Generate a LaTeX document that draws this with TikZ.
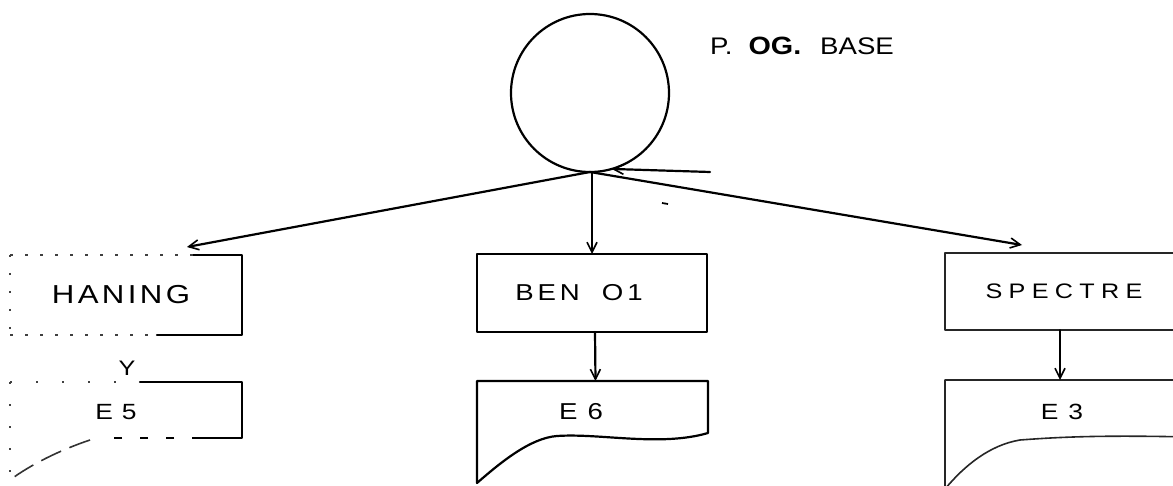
\documentclass[tikz,border=0pt]{standalone}
\usepackage{fontspec}
\setmainfont{Liberation Sans}
% wide, letter-spaced typewriter-like lettering
\newfontfamily\fPlain[FakeStretch=1.2]{Liberation Sans}
\newfontfamily\fHan[FakeStretch=1.2,LetterSpace=13]{Liberation Sans}
\newfontfamily\fBen[FakeStretch=1.2,LetterSpace=17]{Liberation Sans}
\newfontfamily\fSpec[FakeStretch=1.2,LetterSpace=30]{Liberation Sans}
\newfontfamily\fTitle[FakeStretch=1.15]{Liberation Sans}
\usetikzlibrary{arrows.meta,calc}

\begin{document}
\begin{tikzpicture}[x=1pt,y=1pt,
  ln/.style={line width=2.2pt, line cap=round, line join=round},
  thin ln/.style={line width=1.6pt, line cap=round, line join=round, black!85},
  faint/.style={line width=1.6pt, black!75, dash pattern=on 3pt off 12pt},
  dashbot/.style={line width=1.8pt, dash pattern=on 8pt off 18pt},
  arr/.style={ln, -{Straight Barb[length=10pt,width=10pt,line width=1.6pt]}},
  txt/.style={inner sep=0pt, outer sep=0pt},
  area/.style={rectangle, inner sep=0pt, outer sep=0pt}]
\useasboundingbox (0,0) rectangle (1173,485);
\clip (0,0) rectangle (1173,485);

% ---- root circle and title
\node[circle, draw, ln, minimum size=158pt, inner sep=0pt, outer sep=0pt] (base) at (590,392) {};
\node[txt, anchor=west] (title) at (710,439)
  {\fontsize{24}{24}\fTitle P.\hspace{16pt}{\fontsize{25}{25}\selectfont\bfseries OG.}\hspace{19pt}BASE};
\coordinate (in) at (710,313);
\draw[arr] (in) -- (base.-74);

% ---- processing boxes
\node[area, minimum width=232pt, minimum height=80pt] (han) at (126,190) {};
\node[area, draw, ln, minimum width=230pt, minimum height=78pt] (ben) at (592,192) {};
\node[area, minimum width=244pt, minimum height=77pt] (spec) at (1067,193.5) {};

\node[txt] (hant) at ([xshift=-5pt]han.center) {\fontsize{26}{26}\fHan HANING};
\node[txt] (bent) at ([xshift=-13pt]ben.center) {\fontsize{23}{23}\fBen BEN\hspace{22pt}O1};
\node[txt] (spect) at ([xshift=-3pt]spec.center) {\fontsize{21}{21}\fSpec SPECTRE};

% faded HANING box: solid on the right, broken on the left
\draw[ln] ([xshift=-49pt]han.north east) -- (han.north east) -- (han.south east) -- ([xshift=-85pt]han.south east);
\draw[faint] (han.north west) -- ([xshift=-49pt]han.north east);
\draw[faint] (han.south west) -- ([xshift=-85pt]han.south east);
\draw[faint, dash pattern=on 2pt off 16pt] (han.north west) -- (han.south west);

% SPECTRE box (right side runs off the sheet)
\draw[thin ln] (spec.north east) -- (spec.north west) -- (spec.south west) -- (spec.south east);

% ---- document shapes
\node[area, minimum width=232pt, minimum height=56pt] (e5) at (126,75) {};
\node[area, minimum width=231pt, minimum height=52pt] (e6) at (592.5,78) {};
\node[area, minimum width=244pt, minimum height=57pt] (e3) at (1067,76.5) {};

\node[txt] (e5t) at (116,73) {\fontsize{22}{22}\fPlain E\hspace{9pt}5};
\node[txt] (e6t) at (581,73) {\fontsize{23}{23}\fPlain E\hspace{10pt}6};
\node[txt] (e3t) at (1062,73) {\fontsize{22}{22}\fPlain E\hspace{10pt}3};
\node[txt] (ylbl) at (127,117) {\fontsize{21}{21}\fPlain Y};

% E6
\draw[ln] (e6.south west) -- (e6.north west) -- (e6.north east) -- (e6.south east)
  .. controls (660,38) and (600,52) .. (557,49)
  .. controls (530,47) and (500,22) .. ([yshift=-50pt]e6.south west) -- (e6.south west);

% E3
\draw[thin ln] (e3.south east) .. controls (1100,50) and (1060,48) .. (1020,45)
  .. controls (990,40) and (965,20) .. ([yshift=-52pt]e3.south west)
  -- (e3.north west) -- (e3.north east);

% E5 (faded on the left)
\draw[ln] ([xshift=-102pt]e5.north east) -- (e5.north east) -- (e5.south east) -- ([xshift=-42pt]e5.south east);
\draw[dashbot] ([xshift=-42pt]e5.south east) -- ([xshift=-137pt]e5.south east);
\draw[faint, dash pattern=on 2pt off 24pt] (e5.north west) -- ([xshift=-110pt]e5.north east);
\draw[faint, dash pattern=on 2pt off 20pt] (e5.north west) -- ([yshift=-44pt]e5.south west);
\draw[line width=1.6pt, black!80, dash pattern=on 22pt off 9pt]
  ([xshift=-152pt,yshift=-2pt]e5.south east) .. controls (60,35) and (30,20) .. ([yshift=-42pt]e5.south west);

% ---- connectors
\draw[arr] (base.south) -- ([xshift=61pt,yshift=8pt]han.north);
\draw[arr] (base.south -| ben.north) -- (ben.north);
\draw[arr] (base.south) -- ([xshift=-45pt,yshift=8pt]spec.north);
\draw[arr] ([xshift=3pt]ben.south) -- ([xshift=3pt]e6.north);
\draw[arr, line width=1.6pt] ([xshift=-7pt]spec.south) -- ([xshift=-7pt]e3.north);

% small stroke below the junction
\coordinate (m1) at (662,282);
\coordinate (m2) at (668,281);
\draw[line width=1.8pt] (m1) -- (m2);
\end{tikzpicture}
\end{document}
